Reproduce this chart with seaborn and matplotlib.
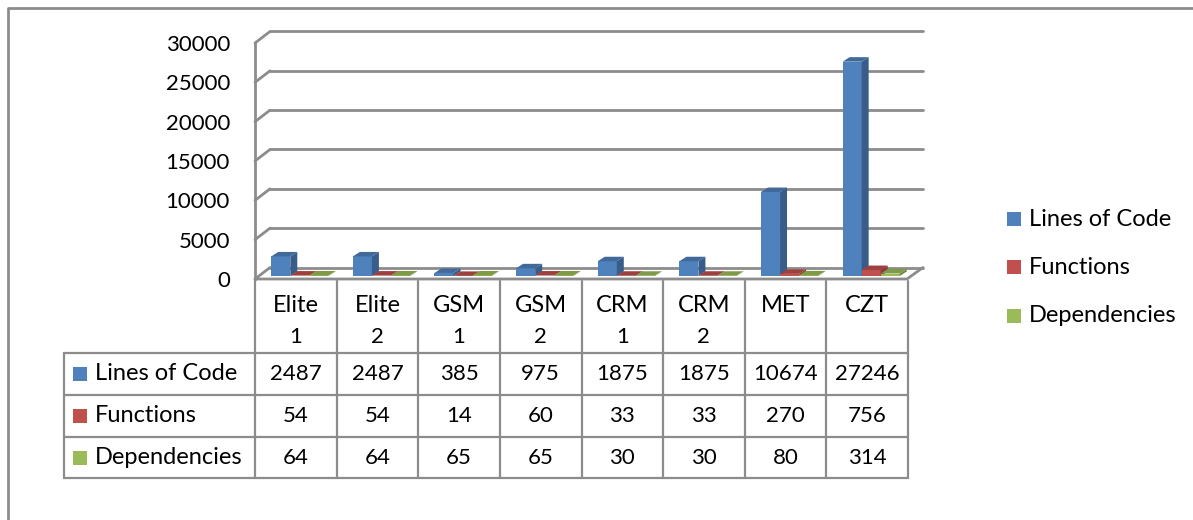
import numpy as np
import pandas as pd
import seaborn as sns
import matplotlib.pyplot as plt
from matplotlib.patches import Polygon, Rectangle
from matplotlib.lines import Line2D
from matplotlib.transforms import IdentityTransform

# ---- data ----
categories = ["Elite\n1", "Elite\n2", "GSM\n1", "GSM\n2", "CRM\n1", "CRM\n2", "MET", "CZT"]
series_names = ["Lines of Code", "Functions", "Dependencies"]
lines_of_code = [2487, 2487, 385, 975, 1875, 1875, 10674, 27246]
functions = [54, 54, 14, 60, 33, 33, 270, 756]
dependencies = [64, 64, 65, 65, 30, 30, 80, 314]
y_ticks = [0, 5000, 10000, 15000, 20000, 25000, 30000]

front_colors = ["#4F81BD", "#C0504D", "#9BBB59"]
side_colors = ["#385D8A", "#8C3A38", "#71893F"]
top_colors = ["#41699A", "#9E403E", "#7F9B48"]
grid_color = "#8C8C8C"

W, H = 1193, 520
FONT = ["Lato", "DejaVu Sans"]
FS_TEXT = 17
FS_NUM = 16

sns.set_theme(style="white")
plt.rcParams["font.family"] = FONT

df = pd.DataFrame({
    "category": np.repeat(categories, 3),
    "series": series_names * len(categories),
    "value": np.ravel(np.column_stack([lines_of_code, functions, dependencies])),
})

fig = plt.figure(figsize=(W / 100, H / 100), dpi=100)
fig.patch.set_facecolor("white")

# axes in pixel geometry: plot floor front at y=279, 30000 at y=43
x_left, x_right, y_zero, y_top = 255, 908, 279, 43
ax = fig.add_axes([x_left / W, 1 - y_zero / H, (x_right - x_left) / W, (y_zero - y_top) / H])

sns.barplot(data=df, x="category", y="value", hue="series", hue_order=series_names,
            palette=front_colors, width=0.70, gap=0, saturation=1, dodge=True,
            edgecolor="none", linewidth=0, ax=ax, legend=False)

ax.set_xlim(-0.5, len(categories) - 0.5)
ax.set_ylim(0, 30000)
ax.set_yticks(y_ticks)
ax.set_yticklabels([str(v) for v in y_ticks], fontsize=FS_NUM, color="black")
ax.set_xticks([])
ax.set_xlabel("")
ax.set_ylabel("")
ax.tick_params(axis="y", direction="out", length=6, width=1.5, color=grid_color, pad=12)
for side in ["top", "right", "bottom"]:
    ax.spines[side].set_visible(False)
ax.spines["left"].set_color(grid_color)
ax.spines["left"].set_linewidth(2)
ax.patch.set_alpha(0)

fig.canvas.draw()
disp = IdentityTransform()

def to_disp(x, y):
    return ax.transData.transform((x, y))

# back wall offset (pixels, display coords: y up)
wdx, wdy = 15, 11.5
x0d, _ = to_disp(-0.5, 0)
x1d, _ = to_disp(len(categories) - 0.5, 0)
for v in y_ticks:
    _, yd = to_disp(0, v)
    fig.add_artist(Line2D([x0d + wdx, x1d + wdx], [yd + wdy, yd + wdy], transform=disp,
                          color=grid_color, lw=2, zorder=0.5))
    fig.add_artist(Line2D([x0d, x0d + wdx], [yd, yd + wdy], transform=disp,
                          color=grid_color, lw=2, zorder=0.5))
# floor front edge and right diagonal
_, y0d = to_disp(0, 0)
fig.add_artist(Line2D([x0d, x1d - 1, x1d + wdx], [y0d, y0d, y0d + wdy], transform=disp,
                      color=grid_color, lw=2, zorder=0.6))

# 3-D faces on each bar
bx, by = 4, 3        # bars sit a little back into the floor
ddx, ddy = 7, 4.5    # bar depth
for s, cont in enumerate(ax.containers):
    for patch in cont:
        (px0, py0), (px1, py1) = ax.transData.transform(
            [(patch.get_x(), patch.get_y()),
             (patch.get_x() + patch.get_width(), patch.get_y() + patch.get_height())])
        px0 += bx; px1 += bx; py0 += by; py1 += by
        z = 2 + s
        fig.add_artist(Rectangle((px0, py0), px1 - px0, py1 - py0, transform=disp,
                                 facecolor=front_colors[s], edgecolor="none", zorder=z))
        fig.add_artist(Polygon([(px1, py0), (px1, py1), (px1 + ddx, py1 + ddy), (px1 + ddx, py0 + ddy)],
                               closed=True, transform=disp, facecolor=side_colors[s],
                               edgecolor="none", zorder=z))
        fig.add_artist(Polygon([(px0, py1), (px1, py1), (px1 + ddx, py1 + ddy), (px0 + ddx, py1 + ddy)],
                               closed=True, transform=disp, facecolor=top_colors[s],
                               edgecolor="none", zorder=z))
        patch.set_visible(False)

# ---- data table ----
def fx(x):
    return x / W

def fy(y):
    return 1 - y / H

tbl_color = "#8C8C8C"
col_edges = [to_disp(i - 0.5, 0)[0] for i in range(len(categories) + 1)]
row_edges = [279, 353, 395, 437, 478]
label_left = 64

def fline(xs, ys, lw=1.6):
    fig.add_artist(Line2D([fx(x) for x in xs], [fy(y) for y in ys], transform=fig.transFigure,
                          color=tbl_color, lw=lw, zorder=1))

# vertical lines of category columns
for xe in col_edges:
    fline([xe, xe], [row_edges[0] + 2, row_edges[-1]])
# left label column
fline([label_left, label_left], [row_edges[1], row_edges[-1]])
# horizontal lines
for ye in row_edges[1:]:
    fline([label_left, col_edges[-1]], [ye, ye])

# header text
for i, cat in enumerate(categories):
    cx = (col_edges[i] + col_edges[i + 1]) / 2
    parts = cat.split("\n")
    for k, part in enumerate(parts):
        fs = FS_NUM if part.isdigit() else FS_TEXT
        fig.text(fx(cx), fy(305 + 32 * k), part, ha="center", va="center", fontsize=fs, color="black")

# body rows
table_rows = [lines_of_code, functions, dependencies]
for r, (name, vals) in enumerate(zip(series_names, table_rows)):
    cy = (row_edges[r + 1] + row_edges[r + 2]) / 2
    fig.add_artist(Rectangle((fx(73), fy(cy + 7)), 14 / W, 14 / H, transform=fig.transFigure,
                             facecolor=front_colors[r], edgecolor="none"))
    fig.text(fx(95), fy(cy), name, ha="left", va="center", fontsize=FS_TEXT, color="black")
    for i, v in enumerate(vals):
        cx = (col_edges[i] + col_edges[i + 1]) / 2
        fig.text(fx(cx), fy(cy), str(v), ha="center", va="center", fontsize=FS_NUM, color="black")

# ---- legend ----
leg_y = [219, 267, 316]
for name, c, ly in zip(series_names, front_colors, leg_y):
    fig.add_artist(Rectangle((fx(1007), fy(ly + 7)), 14 / W, 14 / H, transform=fig.transFigure,
                             facecolor=c, edgecolor="none"))
    fig.text(fx(1029), fy(ly), name, ha="left", va="center", fontsize=FS_TEXT, color="black")

# chart frame
fig.add_artist(Line2D([fx(8), fx(8), fx(W)], [fy(H), fy(8), fy(8)], transform=fig.transFigure,
                      color="#8C8C8C", lw=2))

fig.savefig("out.png", dpi=100, facecolor="white")
